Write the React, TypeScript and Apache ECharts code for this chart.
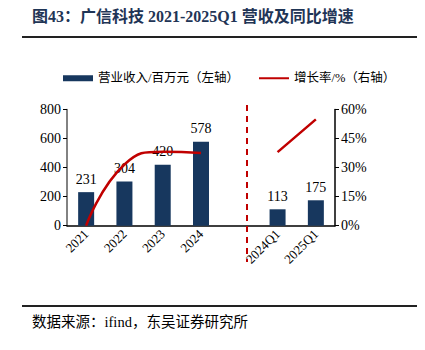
import React, { useEffect, useRef } from "react";
import * as echarts from "echarts";

const categories = ["2021", "2022", "2023", "2024", "", "2024Q1", "2025Q1"];
const revenue: (number | string)[] = [231, 304, 420, 578, "-", 113, 175];
const growth: (number | string)[] = [0, 31.6, 38.2, 37.6, "-", 38.0, 54.9];
const leftTicks = { min: 0, max: 800, interval: 200 };
const rightTicks = { min: 0, max: 60, interval: 15 };

const SERIF = "'Liberation Serif', 'Times New Roman', 'Noto Sans CJK SC', serif";
const CJK = "'Liberation Serif', 'Noto Sans CJK SC', sans-serif";
const NAVY = "#17375e";
const RED = "#c00000";

export default function App() {
  const ref = useRef<HTMLDivElement>(null);
  useEffect(() => {
    if (!ref.current) return;
    const chart = echarts.init(ref.current, undefined, { renderer: "svg" });
    chart.setOption({
      animation: false,
      backgroundColor: "#ffffff",
      legend: {
        left: 58,
        top: 67,
        itemWidth: 30,
        itemHeight: 6,
        itemGap: 19,
        textStyle: { fontFamily: CJK, fontSize: 12.5, color: "#000" },
        data: [
          { name: "营业收入/百万元（左轴）", icon: "rect" },
          { name: "增长率/%（右轴）", itemStyle: { opacity: 0 }, lineStyle: { width: 2 } },
        ],
      },
      grid: { left: 67, right: 90, top: 109.5, bottom: 124.3 },
      xAxis: {
        type: "category",
        data: categories,
        axisLine: { lineStyle: { color: "#000", width: 1.5 } },
        axisTick: { show: false },
        axisLabel: {
          rotate: 45,
          interval: 0,
          fontFamily: SERIF,
          fontSize: 13,
          color: "#000",
          margin: 6,
        },
      },
      yAxis: [
        {
          type: "value",
          ...leftTicks,
          axisLine: { show: true, lineStyle: { color: "#595959", width: 1.5 } },
          axisTick: { show: true, length: 4, lineStyle: { color: "#000" } },
          splitLine: { show: false },
          axisLabel: { fontFamily: SERIF, fontSize: 14, color: "#000", margin: 6 },
        },
        {
          type: "value",
          ...rightTicks,
          position: "right",
          axisLine: { show: true, lineStyle: { color: "#000", width: 1.5 } },
          axisTick: { show: true, length: 4, lineStyle: { color: "#000" } },
          splitLine: { show: false },
          axisLabel: {
            formatter: "{value}%",
            fontFamily: SERIF,
            fontSize: 14,
            color: "#000",
            margin: 6,
          },
        },
      ],
      series: [
        {
          name: "营业收入/百万元（左轴）",
          type: "bar",
          data: revenue,
          barWidth: 16,
          itemStyle: { color: NAVY },
          label: {
            show: true,
            position: "top",
            fontFamily: SERIF,
            fontSize: 14,
            color: "#000",
            distance: 6,
          },
        },
        {
          name: "增长率/%（右轴）",
          type: "line",
          yAxisIndex: 1,
          data: growth,
          smooth: true,
          symbol: "none",
          connectNulls: false,
          lineStyle: { color: RED, width: 2.5 },
          itemStyle: { color: RED },
          z: 3,
        },
      ],
      graphic: [
        {
          type: "text",
          left: 32,
          top: 8,
          style: {
            text: "图43：广信科技 2021-2025Q1 营收及同比增速",
            font: "bold 16px 'Liberation Serif', 'Noto Sans CJK SC', serif",
            fill: "#1f3556",
          },
        },
        {
          type: "line",
          shape: { x1: 22, y1: 37, x2: 425, y2: 37 },
          style: { stroke: "#222", lineWidth: 2 },
        },
        {
          type: "line",
          shape: { x1: 247, y1: 105, x2: 247, y2: 262 },
          style: { stroke: RED, lineWidth: 2, lineDash: [6, 5] },
          z: 10,
        },
        {
          type: "line",
          shape: { x1: 22, y1: 306, x2: 425, y2: 306 },
          style: { stroke: "#222", lineWidth: 2 },
        },
        {
          type: "text",
          left: 32,
          top: 315,
          style: {
            text: "数据来源：ifind，东吴证券研究所",
            font: "14.5px 'Liberation Serif', 'Noto Sans CJK SC', serif",
            fill: "#000",
          },
        },
      ],
    });
    return () => chart.dispose();
  }, []);
  return <div ref={ref} style={{ width: 425, height: 350, margin: -8 }} />;
}
